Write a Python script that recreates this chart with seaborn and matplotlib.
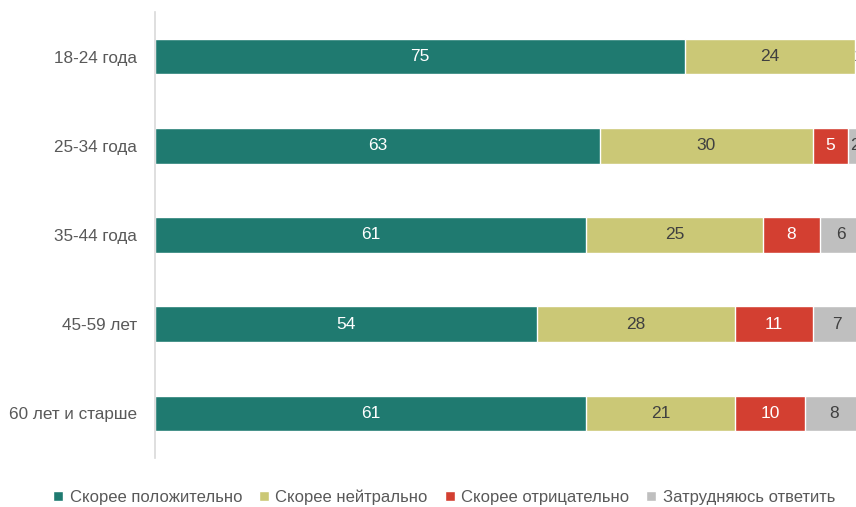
import pandas as pd
import numpy as np
import matplotlib.pyplot as plt
import seaborn as sns

sns.set_theme(style="white")
plt.rcParams['font.family'] = ['Liberation Sans', 'DejaVu Sans']

# данные
groups = ["18-24 года", "25-34 года", "35-44 года", "45-59 лет", "60 лет и старше"]
series = ["Скорее положительно", "Скорее нейтрально", "Скорее отрицательно", "Затрудняюсь ответить"]
positive = [75, 63, 61, 54, 61]
neutral = [24, 30, 25, 28, 21]
negative = [0, 5, 8, 11, 10]
hard = [1, 2, 6, 7, 8]

colors = ["#1F7A70", "#CBC876", "#D33F31", "#BFBFBF"]
label_colors = ["white", "#404040", "white", "#404040"]

vals = np.array([positive, neutral, negative, hard])
cum = vals.cumsum(axis=0)

fig = plt.figure(figsize=(8.56, 5.07), dpi=100)
ax = fig.add_axes([155 / 856, 1 - 458 / 507, 707 / 856, 446 / 507])

# накопленные суммы, от большей к меньшей, чтобы бары перекрывались
for i in range(3, -1, -1):
    df = pd.DataFrame({"group": groups, "value": cum[i]})
    sns.barplot(data=df, x="value", y="group", color=colors[i], saturation=1,
                width=0.4, orient="h", ax=ax, label=series[i])

for i in range(4):
    for j in range(len(groups)):
        v = vals[i, j]
        if v == 0:
            continue
        x = cum[i, j] - v / 2
        ax.text(x, j, str(v), ha="center", va="center", fontsize=12.5,
                color=label_colors[i], clip_on=False)

ax.set_xlim(0, 100)
ax.set_ylim(4.5, -0.5)
ax.set_xlabel("")
ax.set_ylabel("")
ax.set_xticks([])
ax.tick_params(axis="y", labelsize=12.3, labelcolor="#595959", length=0, pad=13)
for s in ["top", "right", "bottom"]:
    ax.spines[s].set_visible(False)
ax.spines["left"].set_color("#D9D9D9")
ax.spines["left"].set_linewidth(1.2)

handles, labels = ax.get_legend_handles_labels()
order = [labels.index(s) for s in series]
ax.legend([handles[k] for k in order], series, loc="center", bbox_to_anchor=(444 / 856, 1 - 497 / 507),
          bbox_transform=fig.transFigure, ncol=4, frameon=False, fontsize=12,
          handlelength=0.6, handleheight=0.6, handletextpad=0.4, columnspacing=1.0,
          labelcolor="#595959")

fig.savefig("out.png", dpi=100)
